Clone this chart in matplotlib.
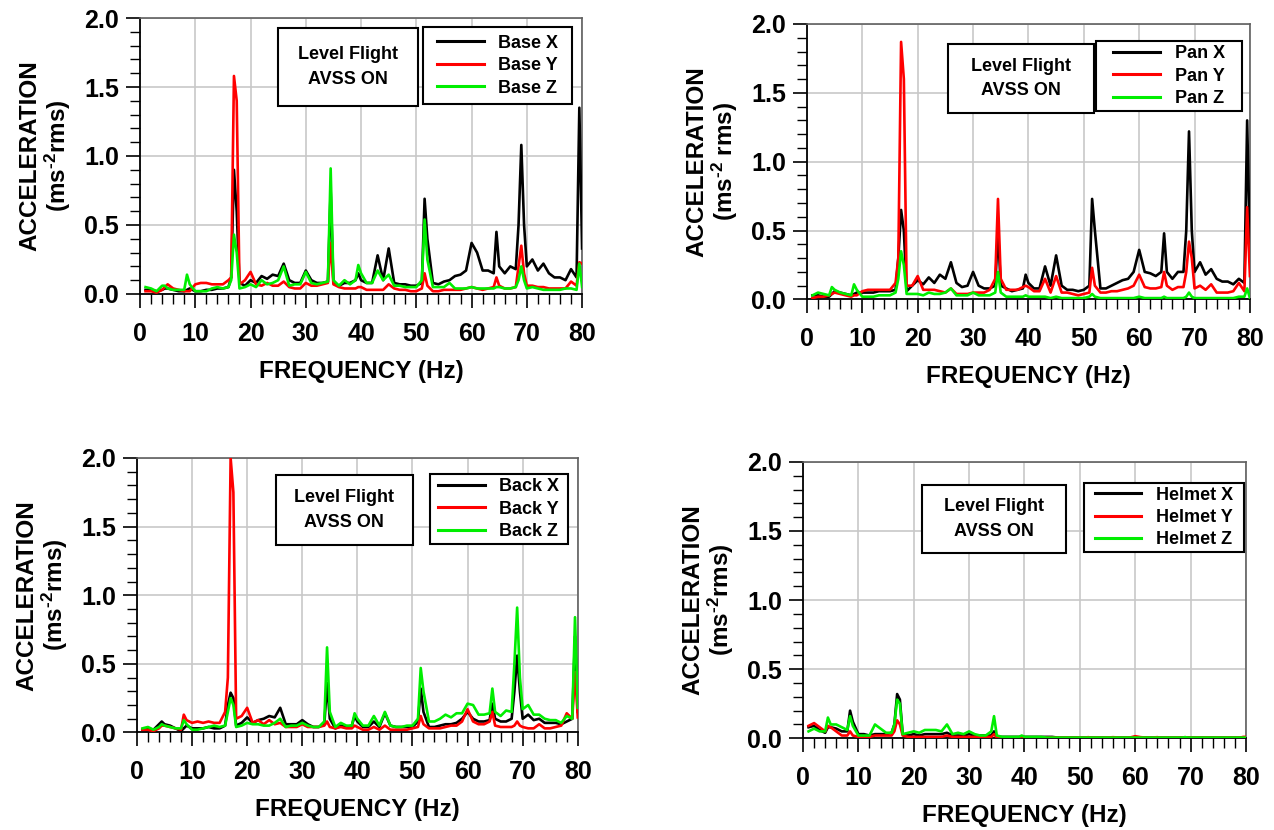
import matplotlib
matplotlib.use("Agg")
import matplotlib.pyplot as plt
from matplotlib.patches import Rectangle
from matplotlib.ticker import MultipleLocator, FormatStrFormatter

plt.rcParams["font.family"] = ["Liberation Sans", "DejaVu Sans"]
plt.rcParams["font.weight"] = "bold"
plt.rcParams["axes.labelweight"] = "bold"
plt.rcParams["mathtext.fontset"] = "custom"
plt.rcParams["mathtext.rm"] = "Liberation Sans:bold"
plt.rcParams["mathtext.it"] = "Liberation Sans:bold"
plt.rcParams["mathtext.bf"] = "Liberation Sans:bold"

# spectrum frequencies (Hz), finer around the rotor harmonics
freq = [1, 2, 3, 4, 4.5, 5, 6, 7, 8, 8.5, 9,
        10, 11, 12, 13, 14, 15, 16, 16.5, 17, 17.5, 18, 19,
        20, 21, 22, 23, 24, 25, 26, 27, 28, 29,
        30, 31, 32, 33, 34, 34.5, 35, 36, 37, 38, 39, 39.5,
        40, 41, 42, 43, 44, 45, 46, 47, 48, 49,
        50, 51, 51.5, 52, 53, 54, 55, 56, 57, 58, 59,
        60, 61, 62, 63, 64, 64.5, 65, 66, 67, 68, 68.5, 69, 69.5,
        70, 71, 72, 73, 74, 75, 76, 77, 78, 79, 79.5, 80]

base_x = [0.03, 0.03, 0.02, 0.03, 0.04, 0.04, 0.03, 0.02, 0.02, 0.03, 0.04,
          0.02, 0.02, 0.03, 0.03, 0.04, 0.04, 0.05, 0.12, 0.90, 0.60, 0.08, 0.06,
          0.10, 0.08, 0.13, 0.11, 0.14, 0.13, 0.22, 0.10, 0.08, 0.08,
          0.17, 0.10, 0.08, 0.08, 0.09, 0.75, 0.08, 0.06, 0.08, 0.08, 0.10, 0.15,
          0.10, 0.08, 0.08, 0.28, 0.10, 0.33, 0.08, 0.07, 0.07, 0.06,
          0.06, 0.08, 0.69, 0.40, 0.08, 0.07, 0.09, 0.10, 0.13, 0.14, 0.17,
          0.37, 0.30, 0.17, 0.17, 0.15, 0.45, 0.20, 0.15, 0.20, 0.18, 0.50, 1.08, 0.50,
          0.20, 0.25, 0.17, 0.22, 0.15, 0.12, 0.12, 0.10, 0.18, 0.12, 1.35, 0.33]
base_y = [0.02, 0.02, 0.01, 0.03, 0.05, 0.07, 0.04, 0.03, 0.02, 0.02, 0.02,
          0.07, 0.08, 0.08, 0.07, 0.07, 0.07, 0.10, 0.12, 1.58, 1.40, 0.07, 0.10,
          0.16, 0.07, 0.06, 0.08, 0.06, 0.06, 0.09, 0.05, 0.04, 0.04,
          0.08, 0.06, 0.06, 0.07, 0.08, 0.37, 0.07, 0.05, 0.04, 0.04, 0.04, 0.05,
          0.05, 0.03, 0.03, 0.03, 0.03, 0.07, 0.04, 0.03, 0.03, 0.02,
          0.02, 0.04, 0.15, 0.06, 0.02, 0.02, 0.03, 0.03, 0.03, 0.03, 0.04,
          0.05, 0.04, 0.03, 0.04, 0.05, 0.12, 0.06, 0.04, 0.04, 0.05, 0.20, 0.35, 0.15,
          0.06, 0.06, 0.05, 0.05, 0.04, 0.04, 0.04, 0.04, 0.09, 0.06, 0.23, 0.22]
base_z = [0.05, 0.04, 0.02, 0.06, 0.06, 0.04, 0.03, 0.03, 0.03, 0.14, 0.07,
          0.02, 0.02, 0.02, 0.04, 0.05, 0.04, 0.05, 0.10, 0.43, 0.30, 0.04, 0.05,
          0.07, 0.05, 0.10, 0.07, 0.08, 0.10, 0.20, 0.06, 0.07, 0.07,
          0.16, 0.08, 0.07, 0.08, 0.09, 0.91, 0.10, 0.06, 0.10, 0.07, 0.10, 0.21,
          0.15, 0.08, 0.08, 0.17, 0.10, 0.14, 0.06, 0.06, 0.05, 0.05,
          0.05, 0.10, 0.54, 0.25, 0.05, 0.05, 0.05, 0.08, 0.04, 0.04, 0.04,
          0.05, 0.04, 0.04, 0.04, 0.04, 0.05, 0.05, 0.04, 0.04, 0.05, 0.10, 0.20, 0.10,
          0.04, 0.05, 0.04, 0.03, 0.03, 0.03, 0.03, 0.04, 0.04, 0.03, 0.22, 0.05]

pan_x = [0.03, 0.03, 0.02, 0.02, 0.04, 0.06, 0.05, 0.04, 0.03, 0.04, 0.05,
         0.05, 0.05, 0.05, 0.06, 0.06, 0.06, 0.07, 0.30, 0.65, 0.50, 0.06, 0.10,
         0.14, 0.11, 0.16, 0.12, 0.18, 0.15, 0.27, 0.12, 0.09, 0.10,
         0.20, 0.10, 0.08, 0.08, 0.10, 0.50, 0.10, 0.08, 0.06, 0.07, 0.08, 0.18,
         0.12, 0.08, 0.08, 0.24, 0.10, 0.32, 0.10, 0.07, 0.07, 0.06,
         0.07, 0.10, 0.73, 0.50, 0.08, 0.08, 0.10, 0.12, 0.14, 0.15, 0.20,
         0.36, 0.20, 0.19, 0.17, 0.20, 0.48, 0.20, 0.15, 0.20, 0.20, 0.50, 1.22, 0.50,
         0.20, 0.27, 0.18, 0.22, 0.15, 0.13, 0.13, 0.11, 0.15, 0.12, 1.30, 0.33]
pan_y = [0.01, 0.02, 0.02, 0.03, 0.04, 0.05, 0.04, 0.03, 0.02, 0.03, 0.03,
         0.06, 0.07, 0.07, 0.07, 0.07, 0.07, 0.12, 0.30, 1.87, 1.60, 0.10, 0.10,
         0.17, 0.07, 0.07, 0.07, 0.06, 0.05, 0.08, 0.04, 0.04, 0.04,
         0.05, 0.05, 0.05, 0.07, 0.15, 0.73, 0.15, 0.07, 0.07, 0.07, 0.09, 0.10,
         0.09, 0.06, 0.06, 0.15, 0.05, 0.17, 0.05, 0.05, 0.04, 0.03,
         0.04, 0.05, 0.23, 0.10, 0.05, 0.05, 0.06, 0.06, 0.07, 0.08, 0.10,
         0.18, 0.09, 0.08, 0.08, 0.09, 0.20, 0.10, 0.07, 0.09, 0.09, 0.20, 0.42, 0.30,
         0.08, 0.10, 0.07, 0.11, 0.05, 0.05, 0.05, 0.06, 0.12, 0.06, 0.67, 0.17]
pan_z = [0.03, 0.05, 0.04, 0.03, 0.09, 0.07, 0.05, 0.04, 0.03, 0.11, 0.07,
         0.02, 0.02, 0.02, 0.03, 0.03, 0.03, 0.05, 0.15, 0.35, 0.25, 0.04, 0.04,
         0.04, 0.03, 0.05, 0.04, 0.04, 0.05, 0.08, 0.03, 0.03, 0.03,
         0.05, 0.03, 0.03, 0.03, 0.05, 0.20, 0.05, 0.02, 0.02, 0.02, 0.02, 0.03,
         0.02, 0.02, 0.02, 0.02, 0.01, 0.02, 0.01, 0.01, 0.01, 0.01,
         0.01, 0.02, 0.04, 0.02, 0.01, 0.01, 0.01, 0.01, 0.01, 0.01, 0.01,
         0.02, 0.01, 0.01, 0.01, 0.01, 0.02, 0.01, 0.01, 0.01, 0.01, 0.02, 0.05, 0.02,
         0.01, 0.01, 0.01, 0.01, 0.01, 0.01, 0.01, 0.01, 0.02, 0.02, 0.08, 0.01]

back_x = [0.02, 0.03, 0.02, 0.06, 0.08, 0.06, 0.05, 0.03, 0.01, 0.03, 0.05,
          0.03, 0.03, 0.03, 0.04, 0.03, 0.03, 0.05, 0.20, 0.29, 0.25, 0.05, 0.07,
          0.11, 0.07, 0.09, 0.10, 0.12, 0.11, 0.18, 0.06, 0.06, 0.06,
          0.09, 0.06, 0.04, 0.04, 0.06, 0.36, 0.10, 0.03, 0.05, 0.04, 0.05, 0.12,
          0.08, 0.04, 0.04, 0.08, 0.04, 0.14, 0.05, 0.04, 0.04, 0.04,
          0.04, 0.08, 0.32, 0.15, 0.04, 0.04, 0.05, 0.06, 0.06, 0.07, 0.10,
          0.15, 0.10, 0.08, 0.08, 0.09, 0.21, 0.10, 0.08, 0.08, 0.10, 0.30, 0.56, 0.30,
          0.10, 0.13, 0.09, 0.10, 0.07, 0.07, 0.07, 0.06, 0.08, 0.10, 0.70, 0.15]
back_y = [0.02, 0.02, 0.01, 0.03, 0.05, 0.05, 0.04, 0.03, 0.02, 0.13, 0.09,
          0.07, 0.08, 0.07, 0.08, 0.07, 0.07, 0.15, 0.40, 2.00, 1.75, 0.10, 0.12,
          0.18, 0.07, 0.09, 0.06, 0.09, 0.06, 0.07, 0.04, 0.04, 0.04,
          0.06, 0.04, 0.04, 0.04, 0.05, 0.08, 0.04, 0.03, 0.04, 0.03, 0.03, 0.05,
          0.04, 0.02, 0.02, 0.04, 0.02, 0.05, 0.02, 0.02, 0.02, 0.02,
          0.03, 0.04, 0.12, 0.06, 0.03, 0.03, 0.03, 0.04, 0.05, 0.05, 0.08,
          0.17, 0.08, 0.06, 0.06, 0.08, 0.15, 0.05, 0.04, 0.04, 0.04, 0.05, 0.08, 0.05,
          0.04, 0.03, 0.03, 0.06, 0.03, 0.03, 0.04, 0.05, 0.14, 0.10, 0.44, 0.11]
back_z = [0.03, 0.04, 0.02, 0.04, 0.06, 0.05, 0.04, 0.03, 0.03, 0.09, 0.06,
          0.02, 0.02, 0.03, 0.04, 0.05, 0.04, 0.05, 0.15, 0.25, 0.20, 0.04, 0.05,
          0.07, 0.06, 0.06, 0.05, 0.05, 0.07, 0.10, 0.04, 0.05, 0.05,
          0.07, 0.05, 0.04, 0.04, 0.08, 0.62, 0.15, 0.04, 0.07, 0.05, 0.05, 0.14,
          0.10, 0.05, 0.05, 0.12, 0.05, 0.15, 0.05, 0.04, 0.04, 0.05,
          0.05, 0.10, 0.47, 0.30, 0.08, 0.08, 0.10, 0.13, 0.11, 0.14, 0.14,
          0.21, 0.20, 0.13, 0.13, 0.14, 0.32, 0.15, 0.12, 0.16, 0.15, 0.50, 0.91, 0.40,
          0.17, 0.20, 0.13, 0.13, 0.10, 0.09, 0.09, 0.07, 0.12, 0.10, 0.84, 0.18]

helmet_x = [0.08, 0.09, 0.06, 0.04, 0.08, 0.08, 0.07, 0.05, 0.05, 0.20, 0.12,
            0.03, 0.03, 0.02, 0.03, 0.03, 0.03, 0.04, 0.10, 0.32, 0.28, 0.03, 0.02,
            0.03, 0.02, 0.03, 0.03, 0.03, 0.03, 0.04, 0.02, 0.02, 0.02,
            0.03, 0.02, 0.02, 0.02, 0.02, 0.05, 0.01, 0.01, 0.01, 0.01, 0.01, 0.01,
            0.01, 0.01, 0.01, 0.01, 0.01, 0.01, 0.005, 0.005, 0.005, 0.005,
            0.005, 0.005, 0.005, 0.005, 0.005, 0.005, 0.005, 0.005, 0.005, 0.005, 0.005,
            0.005, 0.005, 0.005, 0.005, 0.005, 0.005, 0.005, 0.005, 0.005, 0.005, 0.005, 0.005, 0.005,
            0.005, 0.005, 0.005, 0.005, 0.005, 0.005, 0.005, 0.005, 0.005, 0.005, 0.005, 0.005]
helmet_y = [0.09, 0.11, 0.08, 0.05, 0.09, 0.08, 0.05, 0.02, 0.02, 0.05, 0.02,
            0.01, 0.01, 0.01, 0.02, 0.02, 0.02, 0.02, 0.05, 0.13, 0.10, 0.02, 0.01,
            0.01, 0.01, 0.01, 0.01, 0.01, 0.01, 0.02, 0.01, 0.01, 0.01,
            0.01, 0.01, 0.01, 0.01, 0.01, 0.03, 0.005, 0.005, 0.005, 0.005, 0.005, 0.01,
            0.005, 0.005, 0.005, 0.005, 0.005, 0.005, 0.005, 0.005, 0.005, 0.005,
            0.005, 0.005, 0.008, 0.005, 0.005, 0.005, 0.005, 0.008, 0.005, 0.005, 0.005,
            0.015, 0.008, 0.005, 0.005, 0.008, 0.005, 0.005, 0.005, 0.005, 0.005, 0.005, 0.008, 0.005,
            0.005, 0.005, 0.005, 0.005, 0.005, 0.005, 0.005, 0.005, 0.005, 0.005, 0.01, 0.01]
helmet_z = [0.05, 0.07, 0.05, 0.05, 0.15, 0.10, 0.10, 0.08, 0.06, 0.16, 0.09,
            0.02, 0.02, 0.02, 0.10, 0.07, 0.04, 0.04, 0.10, 0.28, 0.25, 0.03, 0.04,
            0.05, 0.04, 0.06, 0.06, 0.06, 0.05, 0.10, 0.03, 0.04, 0.03,
            0.05, 0.03, 0.02, 0.02, 0.05, 0.16, 0.02, 0.01, 0.01, 0.01, 0.01, 0.02,
            0.01, 0.01, 0.01, 0.01, 0.005, 0.005, 0.005, 0.005, 0.005, 0.005,
            0.005, 0.005, 0.005, 0.005, 0.005, 0.005, 0.005, 0.005, 0.005, 0.005, 0.005,
            0.005, 0.005, 0.005, 0.005, 0.005, 0.005, 0.005, 0.005, 0.005, 0.005, 0.005, 0.008, 0.005,
            0.005, 0.005, 0.005, 0.005, 0.005, 0.005, 0.005, 0.005, 0.005, 0.005, 0.005, 0.005]

colors = ["black", "#ff0000", "#00ee00"]
axes_labels = ["X", "Y", "Z"]

# name, series, axes rect, note box, legend box, y label
panels = [
    ("Base", [base_x, base_y, base_z],
     [0.1099, 0.6458, 0.3470, 0.3325],
     (0.312, 0.681, 0.317, 0.283), (0.640, 0.688, 0.337, 0.279),
     "ACCELERATION\n(ms$^{\\text{-}2}$rms)"),
    ("Pan", [pan_x, pan_y, pan_z],
     [0.6334, 0.6392, 0.3477, 0.3319],
     (0.318, 0.677, 0.330, 0.250), (0.653, 0.684, 0.329, 0.254),
     "ACCELERATION\n(ms$^{\\text{-}2}$ rms)"),
    ("Back", [back_x, back_y, back_z],
     [0.1075, 0.1175, 0.3460, 0.3307],
     (0.315, 0.683, 0.311, 0.255), (0.664, 0.686, 0.313, 0.255),
     "ACCELERATION\n(ms$^{\\text{-}2}$rms)"),
    ("Helmet", [helmet_x, helmet_y, helmet_z],
     [0.6303, 0.1105, 0.3477, 0.3330],
     (0.269, 0.670, 0.325, 0.247), (0.634, 0.674, 0.361, 0.250),
     "ACCELERATION\n(ms$^{\\text{-}2}$rms)"),
]

fig = plt.figure(figsize=(12.74, 8.30), dpi=100)

for name, series, rect, note_box, leg_box, ylabel in panels:
    ax = fig.add_axes(rect)
    for vals, c, lab in zip(series, colors, axes_labels):
        ax.plot(freq, vals, color=c, lw=1.9, label=f"{name} {lab}", zorder=3)

    ax.set_xlim(0, 80)
    ax.set_ylim(0, 2.0)
    ax.xaxis.set_major_locator(MultipleLocator(10))
    ax.xaxis.set_minor_locator(MultipleLocator(2))
    ax.yaxis.set_major_locator(MultipleLocator(0.5))
    ax.yaxis.set_minor_locator(MultipleLocator(0.1))
    ax.yaxis.set_major_formatter(FormatStrFormatter("%.1f"))
    ax.grid(True, which="major", color="#c8c8c8", lw=1.2)
    ax.set_axisbelow(True)

    ax.tick_params(which="major", direction="out", length=10, width=1.2,
                   labelsize=18)
    ax.tick_params(which="minor", direction="out", length=7, width=1.0)
    ax.tick_params(axis="x", which="major", pad=10)
    ax.tick_params(axis="y", which="major", pad=5)
    for side in ["left", "bottom"]:
        ax.spines[side].set_linewidth(1.3)
        ax.spines[side].set_color("black")
    for side in ["top", "right"]:
        ax.spines[side].set_linewidth(1.2)
        ax.spines[side].set_color("#606060")

    ax.set_xlabel("FREQUENCY (Hz)", fontsize=17.5, labelpad=10)
    ax.set_ylabel(ylabel, fontsize=17.5, labelpad=8, linespacing=1.05)

    # condition note
    x0, y0, w, h = note_box
    ax.add_patch(Rectangle((x0, y0), w, h, transform=ax.transAxes,
                           facecolor="white", edgecolor="black", lw=1.5,
                           zorder=5))
    ax.text(x0 + w / 2, y0 + h / 2, "Level Flight\nAVSS ON",
            transform=ax.transAxes, ha="center", va="center",
            fontsize=13, linespacing=1.55, zorder=6)

    # legend inside its own box
    x0, y0, w, h = leg_box
    ax.add_patch(Rectangle((x0, y0), w, h, transform=ax.transAxes,
                           facecolor="white", edgecolor="black", lw=1.5,
                           zorder=5))
    leg = ax.legend(loc="center", bbox_to_anchor=(x0, y0, w, h),
                    bbox_transform=ax.transAxes, frameon=False,
                    fontsize=13, handlelength=2.6, labelspacing=0.3,
                    handletextpad=0.8, borderpad=0.2)
    for line in leg.get_lines():
        line.set_linewidth(2.2)
    leg.set_zorder(6)

fig.savefig("out.png", dpi=100)
